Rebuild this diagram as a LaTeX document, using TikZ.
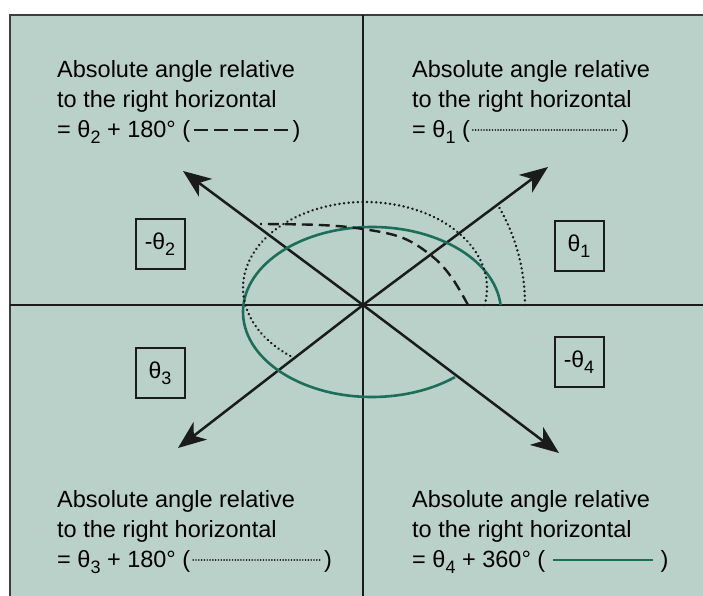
\documentclass[tikz,border=0pt]{standalone}
\usepackage{fontspec}
\setmainfont{Liberation Sans}
\usetikzlibrary{arrows.meta, calc}
\definecolor{panel}{RGB}{185,209,201}
\definecolor{curvegreen}{RGB}{28,110,88}
\definecolor{ink}{RGB}{25,28,27}
\newcommand{\idx}[1]{\raisebox{-0.25em}{\fontsize{18}{18}\selectfont #1}}
\newcommand{\linesample}[2]{\tikz[baseline=-0.3em]\draw[#1] (0,0) -- (#2,0);}
\tikzset{
	x=1pt, y=1pt,
	axis/.style={draw=ink, line width=2pt},
	ray/.style={draw=ink, line width=2.5pt, -{Stealth[length=28pt,width=22pt,inset=8pt]}},
	angbox/.style={draw=ink, line width=2pt, minimum width=49pt, minimum height=50pt, inner sep=0pt, font=\fontsize{23}{23}\selectfont},
	reltext/.style={align=left, inner sep=0pt, anchor=north west, font=\fontsize{23.5}{30}\selectfont},
	trace solid/.style={draw=curvegreen, line width=2.6pt},
	trace dashed/.style={draw=ink, line width=2.4pt, dash pattern=on 11pt off 6pt},
	trace dotted/.style={draw=ink, line width=2.7pt, line cap=round, dash pattern=on 0.01pt off 4.6pt},
	fine dotted/.style={draw=ink, line width=1.8pt, line cap=round, dash pattern=on 0.01pt off 2.8pt},
}

\begin{document}
\begin{tikzpicture}
	\useasboundingbox (0,0) rectangle (703,596);
	\fill[panel] (10,0) rectangle (703,581);
	\draw[ink!85, line width=2.6pt] (10,0) -- (10,581) -- (703,581);
	%
	\coordinate (O) at (363,291);
	\coordinate (axT) at (363,581);
	\coordinate (axB) at (363,0);
	\coordinate (axL) at (10,291);
	\coordinate (axR) at (703,291);
	\draw[axis] (axT) -- (axB);
	\draw[axis] (axL) -- (axR);
	%
	\coordinate (tipNE) at (548,429);
	\coordinate (tipNW) at (183,425);
	\coordinate (tipSW) at (178,148);
	\coordinate (tipSE) at (559,143);
	\foreach \q in {NE,NW,SW,SE}
		\draw[ray] (O) -- (tip\q);
	%
	\coordinate (cG) at (372,284);
	\coordinate (cD) at (365,308);
	\draw[trace solid] ($(cG)+(4.7:129pt and 85pt)$) arc[start angle=4.7, end angle=310, x radius=129pt, y radius=85pt];
	\draw[trace dotted] ($(cD)+(-11.4:122pt and 86pt)$) arc[start angle=-11.4, end angle=234, x radius=122pt, y radius=86pt];
	\draw[trace dotted] ($(O)+(0:162pt and 180pt)$) arc[start angle=0, end angle=34, x radius=162pt, y radius=180pt];
	\draw[trace dashed] plot[smooth, tension=0.6] coordinates {(468,291) (452,318) (433,339) (403,358) (363,367) (320,371) (260,372)};
	%
	\node[angbox] (angNW) at (160,352) {-θ\idx{2}};
	\node[angbox] (angNE) at (579,350) {θ\idx{1}};
	\node[angbox] (angSW) at (160,223) {θ\idx{3}};
	\node[angbox] (angSE) at (579,234) {-θ\idx{4}};
	%
	\node[reltext] (relNW) at (57,536) {Absolute angle relative\\to the right horizontal\\= θ\idx{2} + 180° (\hspace{3pt}\linesample{draw=ink, line width=2.4pt, dash pattern=on 14pt off 6pt}{94pt}\hspace{3pt})};
	\node[reltext] (relNE) at (412,536) {Absolute angle relative\\to the right horizontal\\= θ\idx{1} (\hspace{2pt}\linesample{fine dotted}{146pt}\hspace{2pt})};
	\node[reltext] (relSW) at (57,106) {Absolute angle relative\\to the right horizontal\\= θ\idx{3} + 180° (\hspace{2pt}\linesample{fine dotted}{128pt}\hspace{2pt})};
	\node[reltext] (relSE) at (412,106) {Absolute angle relative\\to the right horizontal\\= θ\idx{4} + 360° ( \linesample{draw=curvegreen, line width=2.4pt}{100pt} )};
\end{tikzpicture}
\end{document}
